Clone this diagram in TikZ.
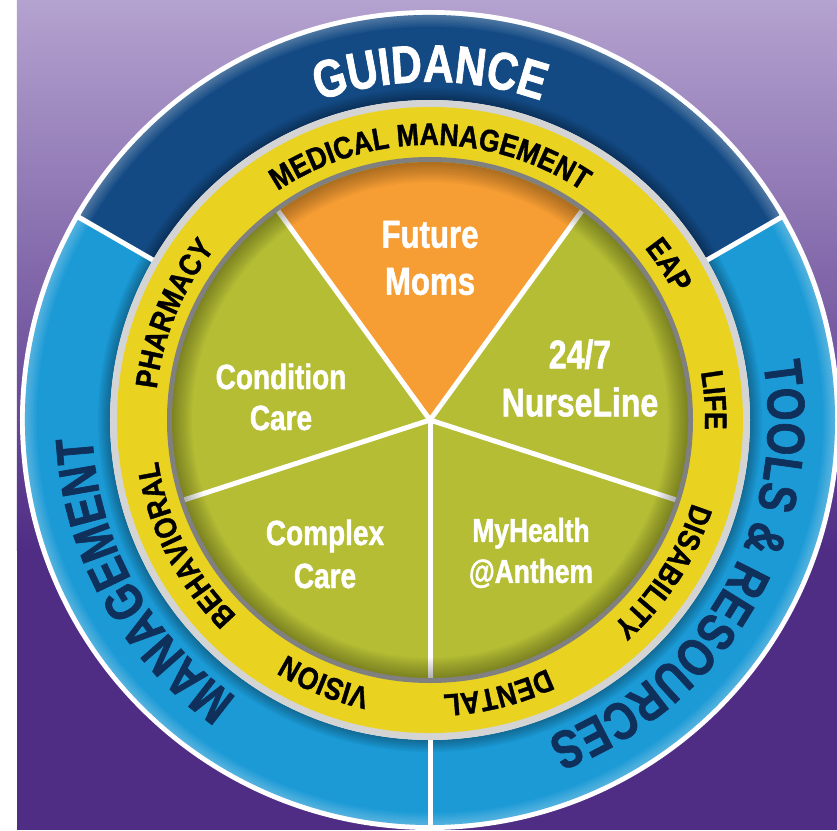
\documentclass[tikz,border=0pt]{standalone}
\usepackage{fontspec}
\setmainfont{Liberation Sans}
\newfontfamily\condA{Liberation Sans}[FakeStretch=0.8,FakeBold=1.3]
\newfontfamily\condB{Liberation Sans}[FakeStretch=0.86,FakeBold=1.2]
\usetikzlibrary{decorations.text}
\definecolor{bgtop}{RGB}{180,162,207}
\definecolor{bgmid}{RGB}{138,110,178}
\definecolor{bgbot}{RGB}{79,45,133}
\definecolor{navy}{RGB}{19,74,132}
\definecolor{sky}{RGB}{27,154,214}
\definecolor{ringyellow}{RGB}{233,211,32}
\definecolor{pgreen}{RGB}{181,189,53}
\definecolor{porange}{RGB}{246,157,52}
\definecolor{darktext}{RGB}{16,48,92}
\definecolor{lightrim}{RGB}{212,212,212}
\definecolor{darkrim}{RGB}{128,128,128}
\newcommand\arctext[5]{%
  \path[decorate,decoration={text along path,text align=center,text={|#4|#5}}]
    (#1+#2:#3) arc[start angle=#1+#2,end angle=#1-#2,radius=#3];}
\newcommand\outerfont{\condA\bfseries\fontsize{53}{53}\selectfont}
\newcommand\ringfont{\condB\bfseries\fontsize{31}{31}\selectfont}
\tikzset{
  pielabel/.style={text=white,align=center,inner sep=0pt,font=\condA\bfseries},
  piedivider/.style={white,line width=5pt},
  bandsep/.style={white,line width=5pt}
}
\begin{document}
\begin{tikzpicture}[x=1pt,y=1pt]
\useasboundingbox (-430,-410) rectangle (407,420);
\fill[white] (-430,-410) rectangle (407,420);
% background
\fill[bgbot] (-413,-410) rectangle (407,-120);
\shade[top color=bgtop,middle color=bgmid,bottom color=bgbot] (-413,-130) rectangle (407,420);
% outer white rim
\fill[white] (0,0) circle[radius=410];
% outer bands
\fill[navy] (30:405) arc[start angle=30,end angle=150,radius=405] -- (150:320) arc[start angle=150,end angle=30,radius=320] -- cycle;
\fill[sky] (150:405) arc[start angle=150,end angle=270,radius=405] -- (270:320) arc[start angle=270,end angle=150,radius=320] -- cycle;
\fill[sky] (270:405) arc[start angle=270,end angle=390,radius=405] -- (390:320) arc[start angle=390,end angle=270,radius=320] -- cycle;
% soft shading on bands
\foreach \i in {1,...,8}{
  \fill[white,opacity=0.035,even odd rule] (0,0) circle[radius=405] circle[radius=405-1.5*\i];
  \fill[black,opacity=0.04,even odd rule] (0,0) circle[radius=320+1.5*\i] circle[radius=320];
}
% band separators
\draw[bandsep] (30:316) -- (30:410);
\draw[bandsep] (150:316) -- (150:410);
\draw[bandsep] (270:316) -- (270:410);
% yellow ring with rims
\fill[lightrim] (0,0) circle[radius=320];
\fill[ringyellow] (0,0) circle[radius=313];
\fill[darkrim] (0,0) circle[radius=263];
% pie
\fill[pgreen] (0,0) circle[radius=258];
\fill[porange] (0,0) -- (54:258) arc[start angle=54,end angle=126,radius=258] -- cycle;
\foreach \a in {54,126,198,270,342}{
  \draw[piedivider] (0,0) -- (\a:258);
}
\foreach \i in {1,...,10}{
  \fill[black,opacity=0.03,even odd rule] (0,0) circle[radius=258] circle[radius=258-2*\i];
}
% outer band texts
\arctext{90}{60}{338}{\outerfont\color{white}}{GUIDANCE}
\arctext{209}{60}{338}{\outerfont\color{darktext}}{MANAGEMENT}
\arctext{-30}{70}{338}{\outerfont\color{darktext}}{TOOLS {\&} RESOURCES}
% yellow ring texts
\arctext{90}{70}{275}{\ringfont\color{black}}{MEDICAL MANAGEMENT}
\arctext{33}{20}{275}{\ringfont\color{black}}{EAP}
\arctext{4}{20}{275}{\ringfont\color{black}}{LIFE}
\arctext{-33}{30}{275}{\ringfont\color{black}}{DISABILITY}
\arctext{-76}{25}{275}{\ringfont\color{black}}{DENTAL}
\arctext{-112}{25}{275}{\ringfont\color{black}}{VISION}
\arctext{-153}{30}{275}{\ringfont\color{black}}{BEHAVIORAL}
\arctext{157.5}{30}{275}{\ringfont\color{black}}{PHARMACY}
% pie labels
\node[pielabel,font=\condA\bfseries\fontsize{39}{47}\selectfont] (fm) at (0,162) {Future\\Moms};
\node[pielabel,font=\condA\bfseries\fontsize{35}{41}\selectfont] (cc) at (-149,23) {Condition\\Care};
\node[pielabel,font=\condA\bfseries\fontsize{40}{48}\selectfont] (nl) at (150,42) {24/7\\NurseLine};
\node[pielabel,font=\condA\bfseries\fontsize{35}{43}\selectfont] (cx) at (-105,-134) {Complex\\Care};
\node[pielabel,font=\condA\bfseries\fontsize{33}{41}\selectfont] (mh) at (101,-133) {MyHealth\\@Anthem};
\end{tikzpicture}
\end{document}
